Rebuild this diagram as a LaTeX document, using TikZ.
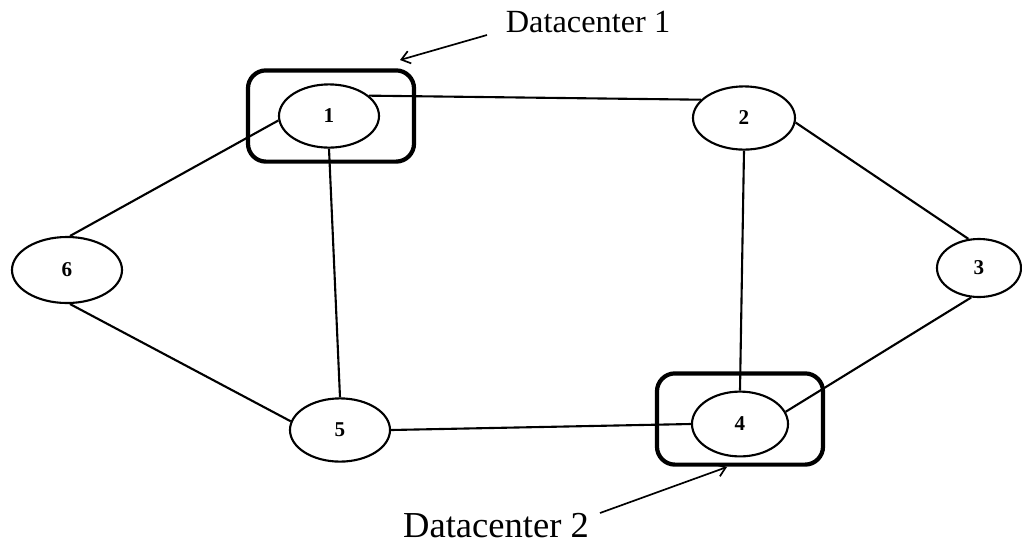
\documentclass[tikz,border=0pt]{standalone}
\usepackage{fontspec}
\setmainfont{Liberation Serif}
\usetikzlibrary{shapes.geometric,arrows.meta}

\begin{document}
\begin{tikzpicture}[x=0.025cm,y=-0.025cm]
\tikzset{
  site/.style={draw,black,ellipse,line width=1.5pt,fill=white,inner sep=0pt,
    minimum width=2.5cm,minimum height=1.58cm,font=\fontsize{15}{15}\selectfont\bfseries},
  link/.style={black,line width=1.5pt},
  dcbox/.style={draw,black,line width=3pt,rounded corners=0.45cm,
    minimum width=4.15cm,minimum height=2.28cm},
  dclabel/.style={inner sep=0pt,font=\fontsize{23}{23}\selectfont},
  pointer/.style={black,line width=1.2pt,-{Straight Barb[length=6pt,width=9pt]}}
}
\useasboundingbox (0,0) rectangle (1022,549);
% datacenter boxes
\node [dcbox] (box1) at (331,116) {};
\node [dcbox] (box4) at (740,419) {};
% sites
\node [site] (n1) at (329,116) {1};
\node [site,minimum width=2.55cm] (n2) at (744,118) {2};
\node [site,minimum width=2.1cm,minimum height=1.45cm] (n3) at (979,268) {3};
\node [site,minimum width=2.75cm,minimum height=1.65cm] (n6) at (67,270) {6};
\node [site] (n5) at (340,430) {5};
\node [site,minimum width=2.4cm,minimum height=1.62cm] (n4) at (740,424) {4};
% links
\draw [link] (n1.27) -- (n2.157);
\draw [link] (n1.185) -- (n6.85);
\draw [link] (n1.south) -- (n5.north);
\draw [link] (n2.south) -- (n4.north);
\draw [link] (n2.-5) -- (n3.110);
\draw [link] (n3.255) -- (n4.15);
\draw [link] (n6.275) -- (n5.170);
\draw [link] (n5.east) -- (n4.west);
% labels
\node [dclabel] (dc1) at (588,22) {Datacenter 1};
\node [dclabel,font=\fontsize{26}{26}\selectfont] (dc2) at (496,526) {Datacenter 2};
\coordinate (from1) at (487,35);
\coordinate (to1) at (400,60);
\coordinate (from2) at (600,513);
\coordinate (to2) at (727,467);
\draw [pointer] (from1) -- (to1);
\draw [pointer] (from2) -- (to2);
\end{tikzpicture}
\end{document}
